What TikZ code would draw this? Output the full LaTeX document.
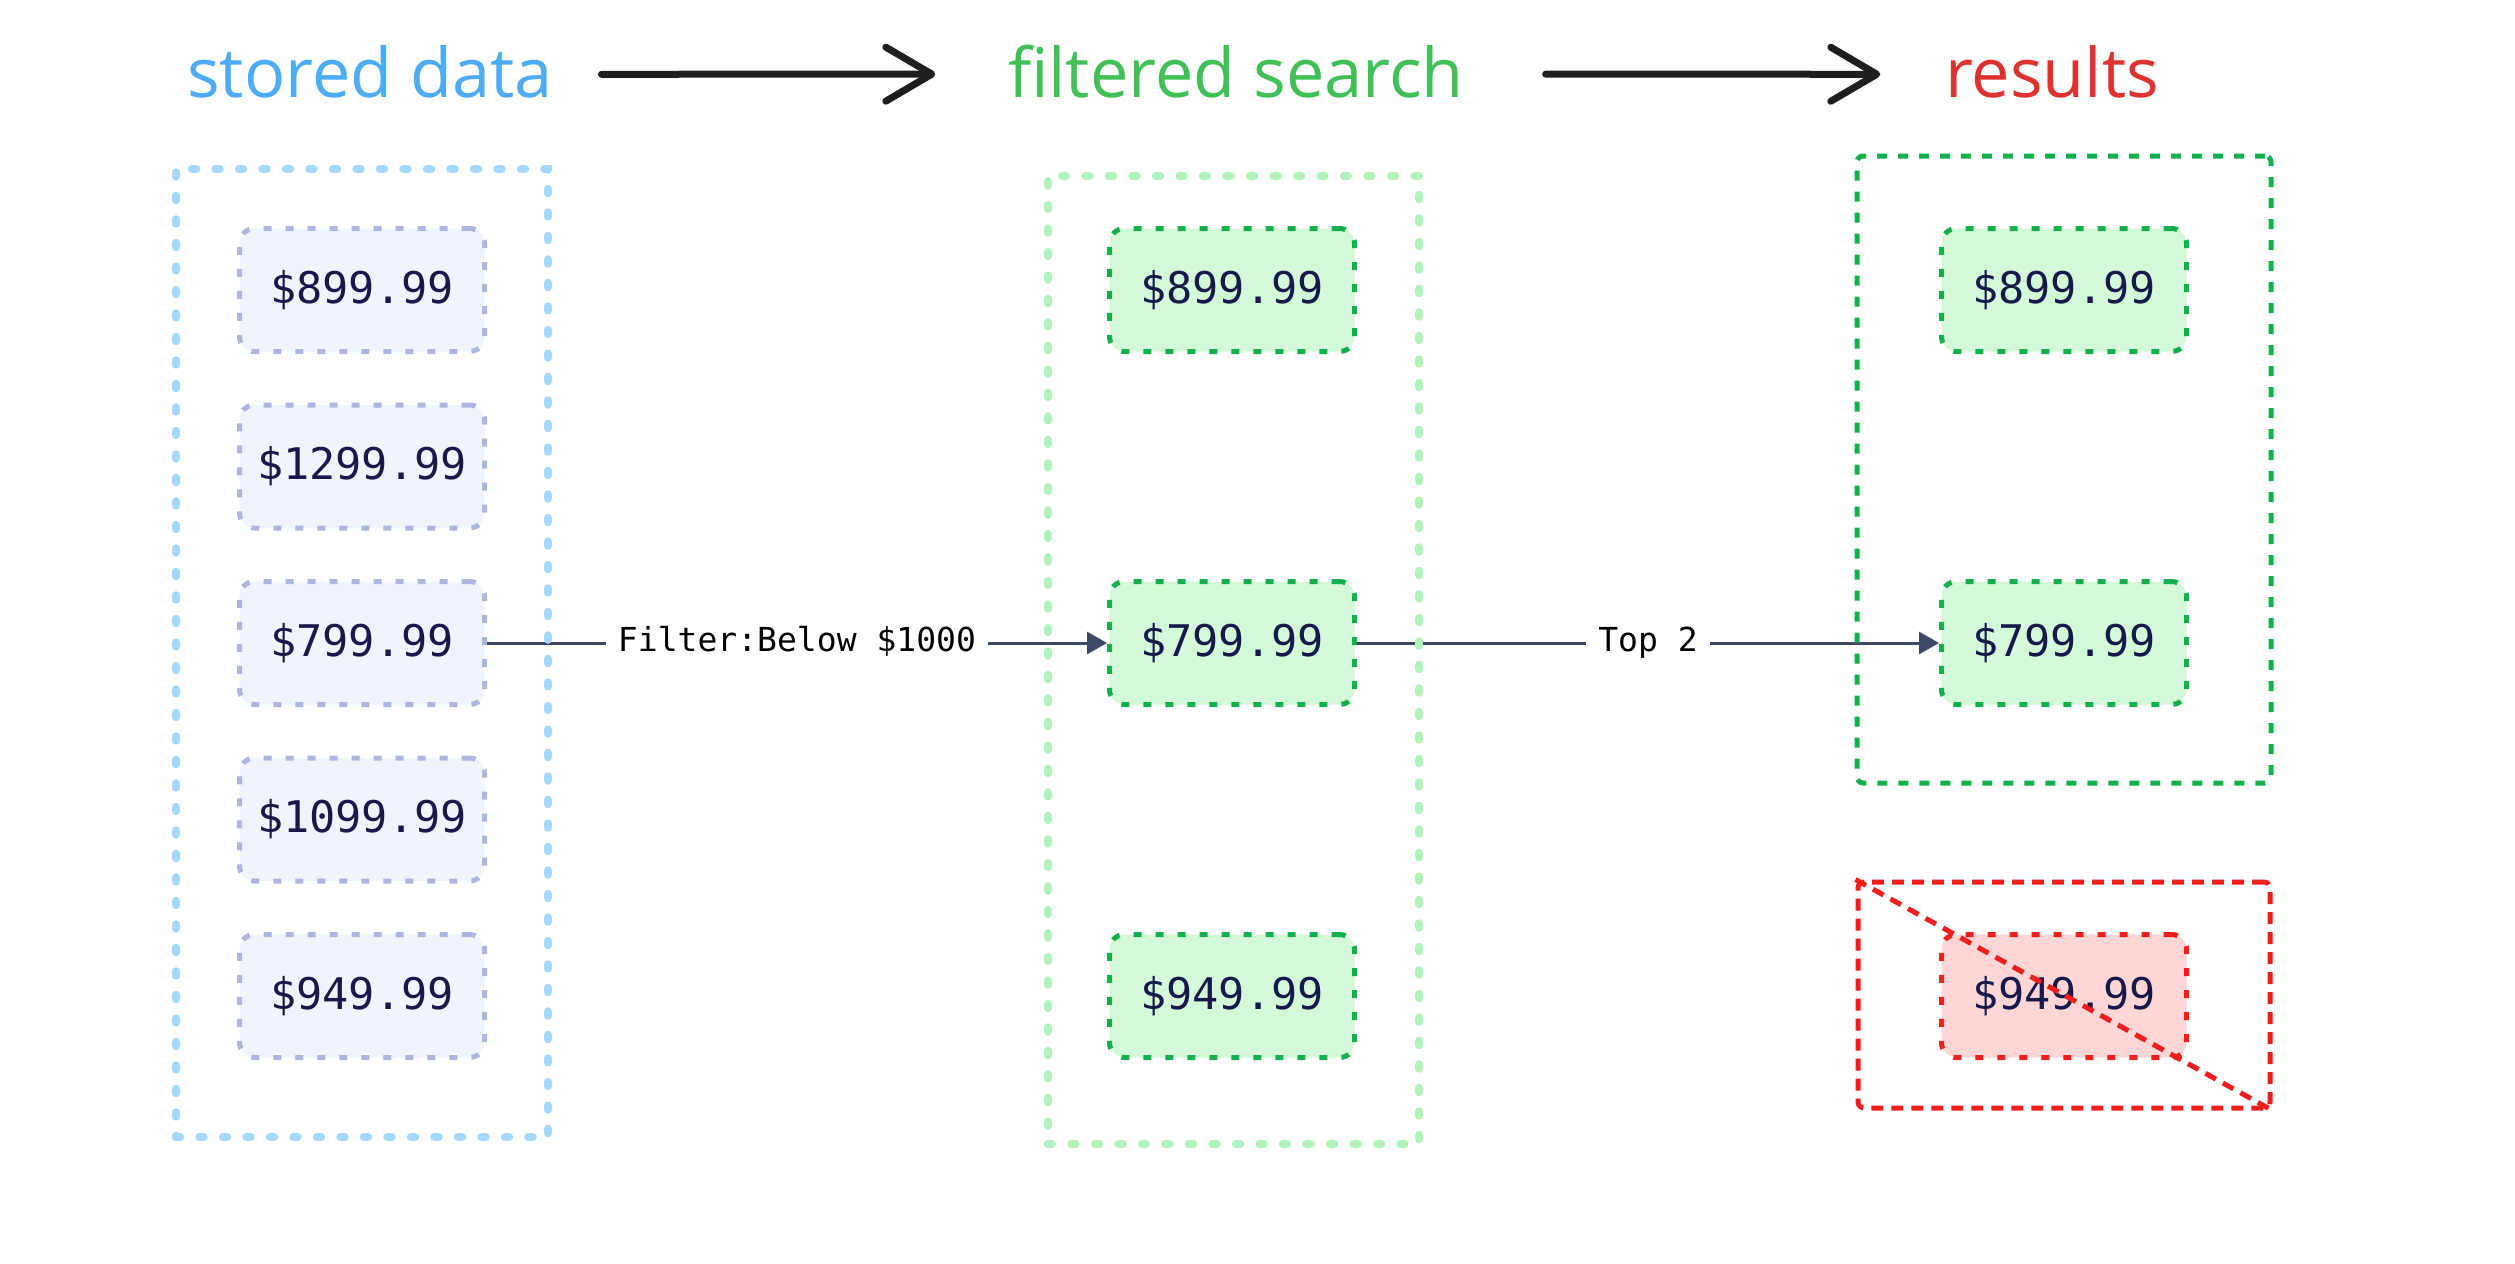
\documentclass[tikz,border=0pt]{standalone}
\usepackage{fontspec}
\setmainfont{Open Sans}
\newfontfamily\monofont{DejaVu Sans Mono}
\usetikzlibrary{positioning, arrows.meta}

\definecolor{storeblue}{HTML}{4DABF7}
\definecolor{storeframe}{HTML}{A5D8FF}
\definecolor{storefill}{HTML}{EFF4FD}
\definecolor{storeedge}{HTML}{ADB5E0}
\definecolor{pricenavy}{HTML}{17194A}
\definecolor{filtgreen}{HTML}{40C057}
\definecolor{filtframe}{HTML}{B2F2BB}
\definecolor{keptfill}{HTML}{D3F9D8}
\definecolor{keptedge}{HTML}{12B04C}
\definecolor{resred}{HTML}{E03131}
\definecolor{dropedge}{HTML}{F21D1D}
\definecolor{dropfill}{HTML}{FFD6D6}
\definecolor{linkslate}{HTML}{3D4866}
\definecolor{inkblack}{HTML}{1E1E1E}

\tikzset{
  pricebox/.style={rounded corners=1.5mm, minimum width=24.5mm, minimum height=12.3mm,
                   line width=0.5mm, dash pattern=on 0.8mm off 1.4mm, text=pricenavy,
                   font=\monofont\fontsize{12.4}{15}\selectfont},
  storedbox/.style={pricebox, draw=storeedge, fill=storefill},
  keptbox/.style={pricebox, draw=keptedge, fill=keptfill},
  droppedbox/.style={pricebox, draw=dropedge, fill=dropfill},
  link/.style={draw=linkslate, line width=0.3mm, -{Triangle[length=2mm, width=2.2mm]}},
  linklabel/.style={fill=white, inner sep=1.2mm, text=black, text height=2.3mm, text depth=0.6mm,
                    font=\monofont\fontsize{9.4}{11}\selectfont},
  dotframe/.style={draw, line width=0.85mm, line cap=round,
                   dash pattern=on 0.4mm off 1.95mm, inner sep=0pt},
  dashframe/.style={draw, line width=0.5mm, dash pattern=on 1mm off 1.1mm,
                    rounded corners=0.6mm, inner sep=0pt},
  cutframe/.style={draw=dropedge, line width=0.5mm, dash pattern=on 1.2mm off 0.8mm}
}

\begin{document}
\begin{tikzpicture}[x=0.1mm, y=-0.1mm]
\useasboundingbox (0,0) rectangle (2515,1263);

% headings along the top
\begin{scope}[every node/.style={anchor=base, inner sep=0pt, font=\fontsize{19.5}{23}\selectfont}]
\node[text=storeblue] (hstore) at (370,97)  {stored data};
\node[text=filtgreen] (hfilt)  at (1236,97) {filtered search};
\node[text=resred]    (hres)   at (2052,97) {results};
\end{scope}

\begin{scope}[every path/.style={draw=inkblack, line width=0.7mm, line cap=round,
              -{Straight Barb[length=4.6mm, width=5.4mm, round]}}]
\draw[shorten <=4.8mm, shorten >=7.2mm] ([yshift=-0.3mm]hstore.east) -- ([yshift=-0.3mm]hfilt.west);
\draw[shorten <=8.1mm, shorten >=6.4mm] ([yshift=-0.3mm]hfilt.east)  -- ([yshift=-0.3mm]hres.west);
\end{scope}

% stored prices
\node[storedbox]                     (s1) at (362,290) {\$899.99};
\node[storedbox, below=4.85mm of s1] (s2) {\$1299.99};
\node[storedbox, below=4.85mm of s2] (s3) {\$799.99};
\node[storedbox, below=4.85mm of s3] (s4) {\$1099.99};
\node[storedbox, below=4.85mm of s4] (s5) {\$949.99};

% what passes the filter
\node[keptbox, right=62mm of s1] (f1) {\$899.99};
\node[keptbox, right=62mm of s3] (f2) {\$799.99};
\node[keptbox, right=62mm of s5] (f3) {\$949.99};

% top two and the one left out
\node[keptbox,    right=58.2mm of f1] (r1) {\$899.99};
\node[keptbox,    right=58.2mm of f2] (r2) {\$799.99};
\node[droppedbox, right=58.2mm of f3] (x3) {\$949.99};

\draw[link] (s3) -- node[linklabel] {Filter:Below \$1000} (f2);
\draw[link] (f2) -- node[linklabel] {Top 2} (r2);

% frames round each column
\node[dotframe, draw=storeframe, minimum width=37.2mm, minimum height=96.8mm] (allbox)  at (362,653)    {};
\node[dotframe, draw=filtframe,  minimum width=37.1mm, minimum height=96.8mm] (filtbox) at (1233.5,660) {};
\node[dashframe, draw=keptedge,  minimum width=41.4mm, minimum height=62.7mm] (topbox)  at (2064,469.5) {};
\node[dashframe, cutframe,       minimum width=41.2mm, minimum height=22.6mm] (cutbox)  at (2064,995)   {};
\draw[cutframe] (cutbox.north west) -- (cutbox.south east);

\end{tikzpicture}
\end{document}
